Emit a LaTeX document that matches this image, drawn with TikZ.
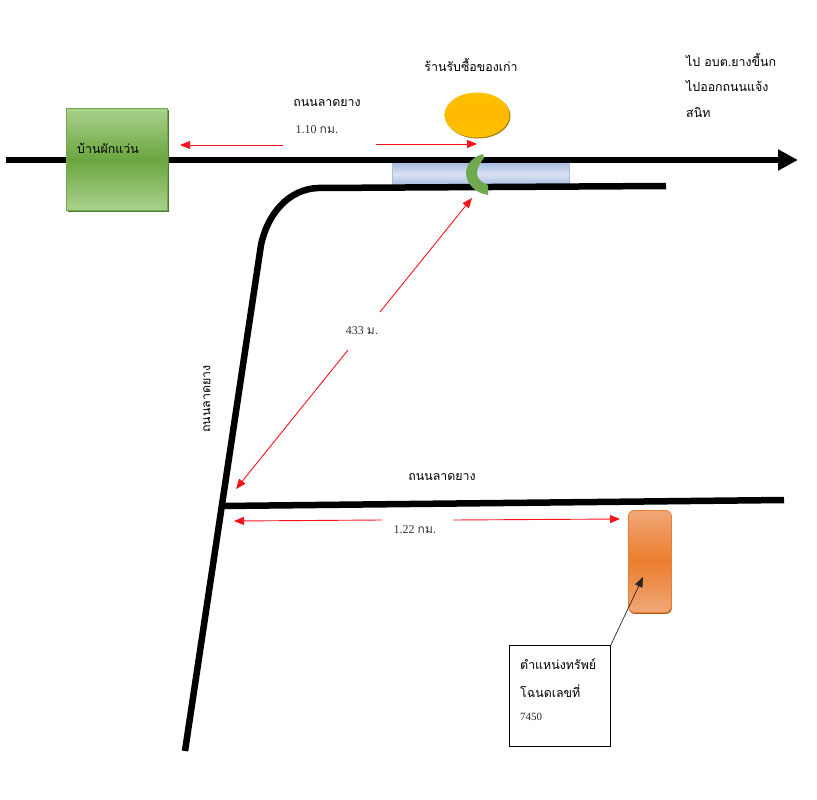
\documentclass[tikz,border=0pt]{standalone}
\usepackage{fontspec}
\setmainfont{Liberation Serif}
\newfontfamily\thaifont[Script=Thai]{Loma}
\usetikzlibrary{arrows.meta,positioning,shadows,calc,shapes.geometric}
\definecolor{roadblack}{HTML}{000000}
\definecolor{arrowred}{HTML}{F5141E}
\definecolor{houseedge}{HTML}{6FA84F}
\definecolor{houselight}{HTML}{A9D18E}
\definecolor{housemid}{HTML}{6AA63F}
\definecolor{houseshade}{HTML}{4E7D2F}
\definecolor{shoplight}{HTML}{FFC000}
\definecolor{shopmid}{HTML}{FFB900}
\definecolor{shopshade}{HTML}{A87E10}
\definecolor{bridgelight}{HTML}{DAE3F3}
\definecolor{bridgedark}{HTML}{A9BDE0}
\definecolor{plotlight}{HTML}{F0A878}
\definecolor{plotmid}{HTML}{EB7D2E}
\definecolor{plotshade}{HTML}{B35A1C}
\definecolor{hillgreen}{HTML}{70A850}
\tikzset{
  road/.style={draw=roadblack, line width=6.5pt},
  redarrow/.style={draw=arrowred, line width=0.9pt, -{Triangle[length=10pt,width=8pt]}},
  thailabel/.style={font=\thaifont\fontsize{12.4}{15}\selectfont, text=black, inner sep=0pt},
  numlabel/.style={font=\fontsize{12}{14}\selectfont, text=black!80, inner sep=0pt},
}
\begin{document}
\begin{tikzpicture}[x=1pt,y=-1pt]
  \useasboundingbox (0,0) rectangle (817,800);
  % roads
  \coordinate (mainstart) at (6,160);
  \coordinate (mainend) at (798,160);
  \draw[road, -{Triangle[length=20pt,width=20pt]}] (mainstart) -- (mainend);
  \node[draw=bridgedark, line width=0.4pt, minimum width=177pt, minimum height=22pt, inner sep=0pt,
        top color=bridgedark, bottom color=bridgedark, middle color=bridgelight, anchor=north west] (bridge) at (392,163) {};
  \coordinate (sidestart) at (666,186);
  \coordinate (sidebend) at (318,188);
  \coordinate (sideend) at (185,751);
  \draw[road, line join=round] (sidestart) -- (sidebend) .. controls (290,189) and (268,212) .. (261,245) -- (sideend);
  \coordinate (lowerstart) at (222,506);
  \coordinate (lowerend) at (784,500);
  \draw[road] (lowerstart) -- (lowerend);
  % places
  \node[draw=houseedge, line width=0.6pt, top color=houselight, bottom color=houselight, middle color=housemid,
        minimum width=101pt, minimum height=102pt, inner sep=0pt, anchor=north west,
        general shadow={shadow xshift=1.5pt, shadow yshift=-1.5pt, fill=houseshade}] (house) at (66,108) {};
  \node[thailabel, anchor=west] (housetext) at (77,148) {บ้านผักแว่น};
  \node[ellipse, minimum width=65pt, minimum height=45pt, inner sep=0pt,
        top color=shoplight, bottom color=shoplight, middle color=shopmid,
        general shadow={shadow xshift=1pt, shadow yshift=-1pt, fill=shopshade}] (shop) at (477,115) {};
  \fill[hillgreen]
    (483,154) .. controls (470,158) and (466,166) .. (466,174) .. controls (467,184) and (475,193) .. (488,195)
    -- (488,185) .. controls (482,183) and (477,179) .. (477,173) .. controls (477,167) and (481,162) .. (484,158) -- cycle;
  \node[draw=plotmid, line width=0.8pt, rounded corners=6pt, minimum width=43pt, minimum height=102pt, inner sep=0pt, anchor=north west,
        top color=plotlight, bottom color=plotlight, middle color=plotmid,
        general shadow={shadow xshift=0.5pt, shadow yshift=-1.5pt, rounded corners=6pt, fill=plotshade}] (plot) at (628,510) {};
  \coordinate (plotpoint) at (643,577);
  \node[draw=black, fill=white, line width=0.8pt, minimum width=101pt, minimum height=101pt, inner sep=0pt, anchor=north west] (plotbox) at (509,645) {};
  \draw[black!85, line width=0.7pt, -{Triangle[length=10pt,width=8pt]}] (plotbox.north east) -- (plotpoint);
  \node[thailabel, anchor=west] (plottext) at (520,664) {ตำแหน่งทรัพย์};
  \node[thailabel, anchor=west] (plotdeed) at (520,691) {โฉนดเลขที่};
  \node[font=\fontsize{11}{13}\selectfont, text=black!85, inner sep=0pt, anchor=west] (plotnum) at (520,717) {7450};
  % labels
  \node[thailabel] (roadtop) at (327,103) {ถนนลาดยาง};
  \node[numlabel] (disttop) at (317,130) {1.10 {\thaifont กม.}};
  \node[thailabel] (shoptext) at (471,65) {ร้านรับซื้อของเก่า};
  \node[thailabel, anchor=west] (gotoa) at (686,60) {ไป อบต.ยางขี้นก};
  \node[thailabel, anchor=west] (gotob) at (686,86) {ไปออกถนนแจ้ง};
  \node[thailabel, anchor=west] (gotoc) at (686,113) {สนิท};
  \node[numlabel] (distdiag) at (362,331) {433 {\thaifont ม.}};
  \node[thailabel, rotate=90] (roadleft) at (207,399) {ถนนลาดยาง};
  \node[thailabel] (roadlow) at (442,477) {ถนนลาดยาง};
  \node[numlabel] (distlow) at (415,530) {1.22 {\thaifont กม.}};
  % distances
  \coordinate (topleft) at (283,145);
  \coordinate (topright) at (376,144);
  \coordinate (hometip) at (180,145);
  \coordinate (shoptip) at (477,144);
  \draw[redarrow] (topleft) -- (hometip);
  \draw[redarrow] (topright) -- (shoptip);
  \coordinate (diagup) at (380,312);
  \coordinate (diagdown) at (348,350);
  \coordinate (diagtipa) at (472,198);
  \coordinate (diagtipb) at (236,489);
  \draw[redarrow] (diagup) -- (diagtipa);
  \draw[redarrow] (diagdown) -- (diagtipb);
  \coordinate (lowleft) at (382,520);
  \coordinate (lowright) at (453,520);
  \coordinate (lowtipa) at (234,521);
  \coordinate (lowtipb) at (620,519);
  \draw[redarrow] (lowleft) -- (lowtipa);
  \draw[redarrow] (lowright) -- (lowtipb);
\end{tikzpicture}
\end{document}
